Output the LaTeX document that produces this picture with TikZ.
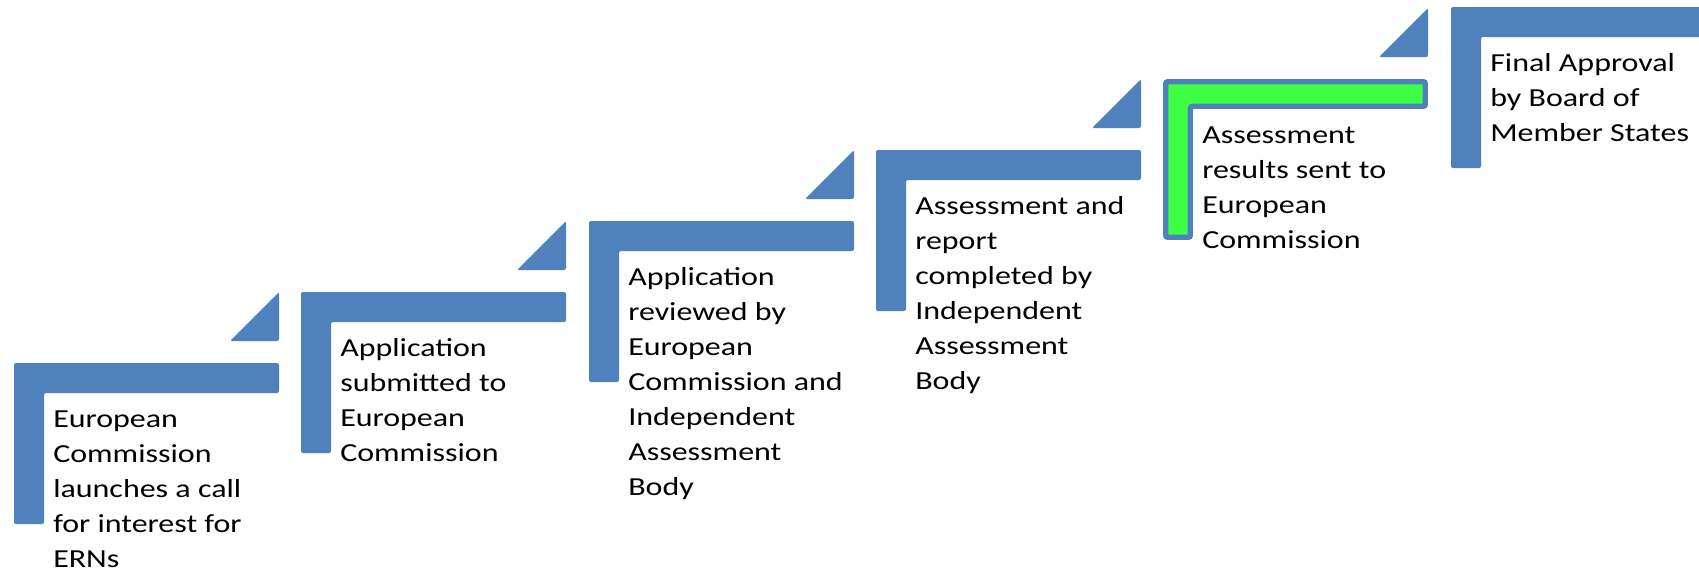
\documentclass[tikz,border=0pt]{standalone}
\usepackage{fontspec}
\setmainfont{Carlito}[FakeStretch=1.23]
\definecolor{stepblue}{HTML}{4F81BD}
\definecolor{stepgreen}{HTML}{3CFF46}
\tikzset{
  stair/.style={fill=stepblue, rounded corners=1.5pt},
  label/.style={anchor=north west, inner sep=0pt, align=left,
    font=\fontsize{19.5pt}{26.25pt}\selectfont}
}
\begin{document}
\begin{tikzpicture}[x=0.75pt, y=-0.75pt]
  \useasboundingbox (0,0) rectangle (1699,569);
  \clip (0,0) rectangle (1699,569);
  % stairs
  \fill[stair] (14,363) -- (279,363) -- (279,393) -- (44,393) -- (44,524) -- (14,524) -- cycle;
  \fill[stair] (301,292) -- (566,292) -- (566,322) -- (331,322) -- (331,453) -- (301,453) -- cycle;
  \fill[stair] (589,221) -- (854,221) -- (854,251) -- (619,251) -- (619,382) -- (589,382) -- cycle;
  \fill[stair] (876,150) -- (1141,150) -- (1141,180) -- (906,180) -- (906,311) -- (876,311) -- cycle;
  \filldraw[fill=stepgreen, draw=stepblue, line width=4pt, rounded corners=1.5pt]
    (1165.7,81.7) -- (1425.3,81.7) -- (1425.3,106.3) -- (1190.3,106.3) -- (1190.3,237.3) -- (1165.7,237.3) -- cycle;
  \fill[stair] (1451,7) -- (1716,7) -- (1716,37) -- (1481,37) -- (1481,168) -- (1451,168) -- cycle;
  % small wedges
  \fill[stair] (230,341) -- (279,292) -- (279,341) -- cycle;
  \fill[stair] (517,270) -- (566,221) -- (566,270) -- cycle;
  \fill[stair] (805,199) -- (854,150) -- (854,199) -- cycle;
  \fill[stair] (1092,128) -- (1141,79) -- (1141,128) -- cycle;
  \fill[stair] (1379,57) -- (1428,8) -- (1428,57) -- cycle;
  % texts
  \node[label] (s1) at (53,403) {\strut European\\Commission\\launches a call\\for interest for\\ERNs};
  \node[label] (s2) at (340,332) {\strut Application\\submitted to\\European\\Commission};
  \node[label] (s3) at (628,261) {\strut Application\\reviewed by\\European\\Commission and\\Independent\\Assessment\\Body};
  \node[label] (s4) at (915,190) {\strut Assessment and\\report\\completed by\\Independent\\Assessment\\Body};
  \node[label] (s5) at (1202,119) {\strut Assessment\\results sent to\\European\\Commission};
  \node[label] (s6) at (1490,47) {\strut Final Approval\\by Board of\\Member States};
\end{tikzpicture}
\end{document}
